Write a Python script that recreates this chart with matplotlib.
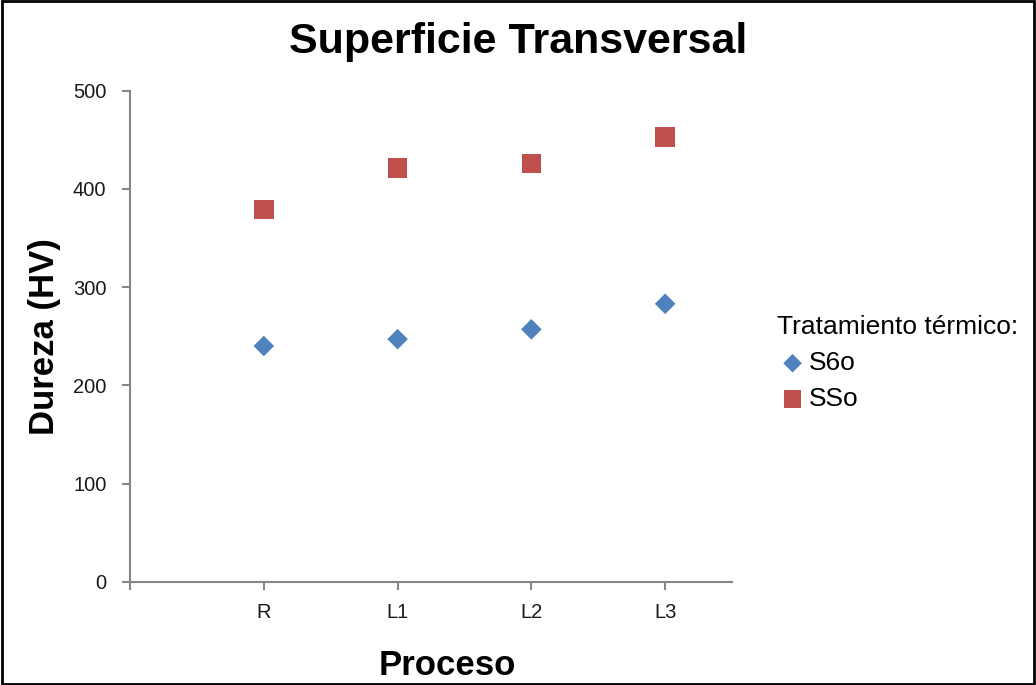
import matplotlib.pyplot as plt
from matplotlib.patches import Rectangle

plt.rcParams['font.family'] = ['Liberation Sans', 'DejaVu Sans']

# data
categories = ['R', 'L1', 'L2', 'L3']
s6o = [240, 247, 257, 283]
sso = [379, 421, 426, 453]

x = list(range(1, len(categories) + 1))

fig = plt.figure(figsize=(10.36, 6.85), dpi=100)
ax = fig.add_axes([0.1255, 0.1508, 0.5811, 0.7168])

ax.scatter(x, s6o, marker='D', s=110, color='#4F81BD', edgecolors='none',
           label='S6o', zorder=3)
ax.scatter(x, sso, marker='s', s=200, color='#C0504D', edgecolors='none',
           label='SSo', zorder=3)

ax.set_xlim(0, 4.5)
ax.set_ylim(0, 500)
ax.set_yticks(range(0, 501, 100))
ax.set_xticks([0] + x)
ax.set_xticklabels([''] + categories)

for side in ['top', 'right']:
    ax.spines[side].set_visible(False)
for side in ['left', 'bottom']:
    ax.spines[side].set_color('#868686')
    ax.spines[side].set_linewidth(1.5)
ax.tick_params(axis='both', colors='#868686', labelcolor='#1a1a1a',
               labelsize=14.5, width=1.5, length=6)
ax.tick_params(axis='x', pad=9)
ax.tick_params(axis='y', pad=11)

fig.text(0.5, 0.939, 'Superficie Transversal', fontsize=31,
         fontweight='bold', ha='center', va='center')
fig.text(0.043, 0.508, 'Dureza (HV)', fontsize=25, fontweight='bold',
         rotation=90, ha='center', va='center')
fig.text(0.432, 0.028, 'Proceso', fontsize=25, fontweight='bold',
         ha='center', va='center')

leg = fig.legend(loc='upper left', bbox_to_anchor=(0.737, 0.559),
                 title='Tratamiento térmico:', fontsize=19,
                 title_fontsize=19, frameon=False, handletextpad=0.0,
                 labelspacing=0.45, borderpad=0, handlelength=1.2,
                 markerscale=0.9)
leg._legend_box.align = 'left'

# frame around the whole picture
fig.patches.append(Rectangle((0.002, 0.002), 0.996, 0.996,
                             transform=fig.transFigure, fill=False,
                             edgecolor='black', linewidth=2))

plt.savefig('out.png', dpi=100)
